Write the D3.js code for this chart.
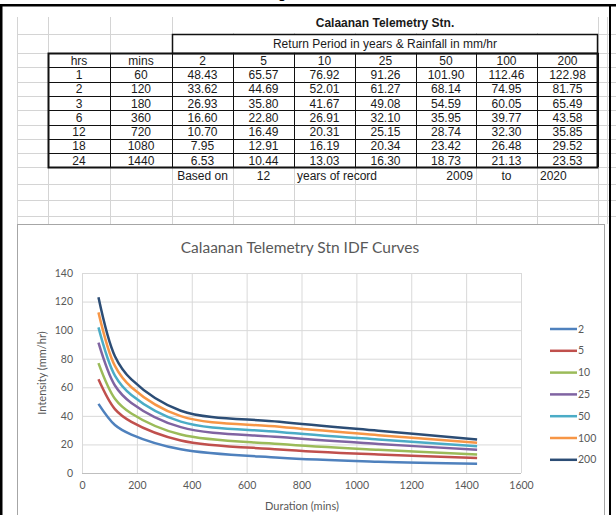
<!DOCTYPE html>
<html>
<head>
<meta charset="utf-8">
<script src="https://cdn.jsdelivr.net/npm/d3@7"></script>
<style>
body { margin: 0; background: #fff; }
svg { display: block; }
.cell { font-family: "Liberation Sans", Arial, sans-serif; font-size: 12px; fill: #1a1a1a; }
.chart-text { font-family: Lato, "Open Sans", sans-serif; fill: #595959; }
</style>
</head>
<body>
<script>
// table data
var hrs = [1, 2, 3, 6, 12, 18, 24];
var mins = [60, 120, 180, 360, 720, 1080, 1440];
var periods = [2, 5, 10, 25, 50, 100, 200];
var rain2 = [48.43, 33.62, 26.93, 16.60, 10.70, 7.95, 6.53];
var rain5 = [65.57, 44.69, 35.80, 22.80, 16.49, 12.91, 10.44];
var rain10 = [76.92, 52.01, 41.67, 26.91, 20.31, 16.19, 13.03];
var rain25 = [91.26, 61.27, 49.08, 32.10, 25.15, 20.34, 16.30];
var rain50 = [101.90, 68.14, 54.59, 35.95, 28.74, 23.42, 18.73];
var rain100 = [112.46, 74.95, 60.05, 39.77, 32.30, 26.48, 21.13];
var rain200 = [122.98, 81.75, 65.49, 43.58, 35.85, 29.52, 23.53];
var xTicks = [0, 200, 400, 600, 800, 1000, 1200, 1400, 1600];
var yTicks = [0, 20, 40, 60, 80, 100, 120, 140];
var colors = ["#4f81bd", "#c0504d", "#9bbb59", "#8064a2", "#4bacc6", "#f79646", "#2c4d75"];

var series = [rain2, rain5, rain10, rain25, rain50, rain100, rain200];

var W = 616, H = 515;
var svg = d3.select("body").append("svg")
    .attr("width", W)
    .attr("height", H);

/*** spreadsheet grid ***/
var colEdges = [17, 48, 110, 172, 233, 294, 355, 416, 476, 537, 598, 607];
var rowEdges = [14, 34, 53, 67.3, 81.6, 95.9, 110.2, 124.5, 138.8, 153.1, 167.4, 184, 200, 216];

var grid = svg.append("g").attr("stroke", "#d4d4d4").attr("stroke-width", 1);
colEdges.forEach(function(x) {
    grid.append("line").attr("x1", x + 0.5).attr("x2", x + 0.5).attr("y1", 17).attr("y2", 224);
});
rowEdges.slice(1).forEach(function(y) {
    grid.append("line").attr("x1", 17).attr("x2", 616).attr("y1", Math.round(y) + 0.5).attr("y2", Math.round(y) + 0.5);
});

// merged cells have no inner grid
svg.append("rect").attr("x", 173).attr("y", 15).attr("width", 424).attr("height", 18).attr("fill", "#fff");
svg.append("rect").attr("x", 173).attr("y", 35).attr("width", 424).attr("height", 17).attr("fill", "#fff");

function colLeft(i) { return colEdges[i + 1]; }
function colRight(i) { return colEdges[i + 2]; }
function colMid(i) { return (colLeft(i) + colRight(i)) / 2; }
function rowMid(i) { return (rowEdges[i] + rowEdges[i + 1]) / 2; }

// title rows
svg.append("text").attr("class", "cell")
    .attr("x", 385).attr("y", rowMid(0) + 3)
    .attr("text-anchor", "middle").style("font-weight", "bold")
    .text("Calaanan Telemetry Stn.");
svg.append("text").attr("class", "cell")
    .attr("x", 385).attr("y", 48)
    .attr("text-anchor", "middle")
    .text("Return Period in years & Rainfall in mm/hr");

// table cells
var header = ["hrs", "mins"].concat(periods.map(String));
var rows = [header];
hrs.forEach(function(h, i) {
    var r = [String(h), String(mins[i])];
    series.forEach(function(s) { r.push(d3.format(".2f")(s[i])); });
    rows.push(r);
});

rows.forEach(function(r, ri) {
    r.forEach(function(v, ci) {
        svg.append("text").attr("class", "cell")
            .attr("x", colMid(ci))
            .attr("y", rowMid(ri + 2) + 4.5)
            .attr("text-anchor", "middle")
            .text(v);
    });
});

// table borders
var tb = svg.append("g").attr("fill", "none").attr("stroke", "#111");
tb.append("rect").attr("x", 172.5).attr("y", 34.5).attr("width", 425).attr("height", 19).attr("stroke-width", 1.5);
tb.append("rect").attr("x", 48.5).attr("y", 53.5).attr("width", 549).attr("height", 114).attr("stroke-width", 2);
for (var c = 2; c < 11; c++) {
    tb.append("line").attr("x1", colEdges[c] + 0.5).attr("x2", colEdges[c] + 0.5)
        .attr("y1", 53).attr("y2", 167).attr("stroke-width", 1);
}
for (var rr = 3; rr < 11; rr++) {
    tb.append("line").attr("x1", 48).attr("x2", 598)
        .attr("y1", Math.round(rowEdges[rr]) + 0.5).attr("y2", Math.round(rowEdges[rr]) + 0.5).attr("stroke-width", 1);
}

// "based on" row
var by = rowMid(10) + 4;
svg.append("text").attr("class", "cell").attr("x", colMid(2)).attr("y", by).attr("text-anchor", "middle").text("Based on");
svg.append("text").attr("class", "cell").attr("x", colMid(3)).attr("y", by).attr("text-anchor", "middle").text("12");
svg.append("text").attr("class", "cell").attr("x", colLeft(4) + 3).attr("y", by).text("years of record");
svg.append("text").attr("class", "cell").attr("x", colRight(6) - 3).attr("y", by).attr("text-anchor", "end").text("2009");
svg.append("text").attr("class", "cell").attr("x", colMid(7)).attr("y", by).attr("text-anchor", "middle").text("to");
svg.append("text").attr("class", "cell").attr("x", colLeft(8) + 3).attr("y", by).text("2020");

/*** chart ***/
svg.append("rect").attr("x", 17.5).attr("y", 224.5).attr("width", 587).attr("height", 300)
    .attr("fill", "#fff").attr("stroke", "#a6a6a6");

var x = d3.scaleLinear().domain([0, 1600]).range([82, 521]);
var y = d3.scaleLinear().domain([0, 140]).range([473, 273]);

svg.append("text").attr("class", "chart-text")
    .attr("x", 300).attr("y", 253)
    .attr("text-anchor", "middle").style("font-size", "15.5px")
    .text("Calaanan Telemetry Stn IDF Curves");

var xAxis = d3.axisBottom(x).tickValues(xTicks).tickFormat(d3.format("d"))
    .tickSize(-(473 - 273)).tickPadding(9);
var yAxis = d3.axisLeft(y).tickValues(yTicks).tickFormat(d3.format("d"))
    .tickSize(-(521 - 82)).tickPadding(9);

var gx = svg.append("g").attr("transform", "translate(0,473)").call(xAxis);
var gy = svg.append("g").attr("transform", "translate(82,0)").call(yAxis);
[gx, gy].forEach(function(g) {
    g.select(".domain").remove();
    g.selectAll(".tick line").attr("stroke", "#d9d9d9");
    g.selectAll(".tick text").attr("class", "chart-text").style("font-size", "10.5px").attr("fill", "#595959");
});
gy.selectAll(".tick").filter(function(d) { return d === 0; }).select("line").attr("stroke", "#bfbfbf");

svg.append("text").attr("class", "chart-text")
    .attr("x", 302).attr("y", 510)
    .attr("text-anchor", "middle").style("font-size", "11px")
    .text("Duration (mins)");
svg.append("text").attr("class", "chart-text")
    .attr("transform", "translate(46,373) rotate(-90)")
    .attr("text-anchor", "middle").style("font-size", "11px")
    .text("Intensity (mm/hr)");

var line = d3.line()
    .x(function(d, i) { return x(mins[i]); })
    .y(function(d) { return y(d); })
    .curve(d3.curveCatmullRom);

svg.append("g").selectAll("path")
    .data(series)
    .enter().append("path")
    .attr("d", line)
    .attr("fill", "none")
    .attr("stroke", function(d, i) { return colors[i]; })
    .attr("stroke-width", 2.5);

// legend
var leg = svg.append("g").selectAll("g")
    .data(periods)
    .enter().append("g")
    .attr("transform", function(d, i) { return "translate(550," + (329 + i * 21.8) + ")"; });
leg.append("line").attr("x1", 0).attr("x2", 27)
    .attr("stroke", function(d, i) { return colors[i]; }).attr("stroke-width", 2.5);
leg.append("text").attr("class", "chart-text")
    .attr("x", 28).attr("y", 3.5).style("font-size", "10.5px")
    .text(function(d) { return d; });

/*** outer frame ***/
svg.append("text").attr("x", 282).attr("y", -2).attr("text-anchor", "middle")
    .style("font-family", "Liberation Sans, Arial").style("font-size", "16px").text("g");
svg.append("rect").attr("x", 0).attr("y", 4).attr("width", 616).attr("height", 2.5).attr("fill", "#000");
svg.append("rect").attr("x", 0).attr("y", 4).attr("width", 2.5).attr("height", 511).attr("fill", "#000");
svg.append("rect").attr("x", 609).attr("y", 4).attr("width", 2).attr("height", 511).attr("fill", "#000");
</script>
</body>
</html>
